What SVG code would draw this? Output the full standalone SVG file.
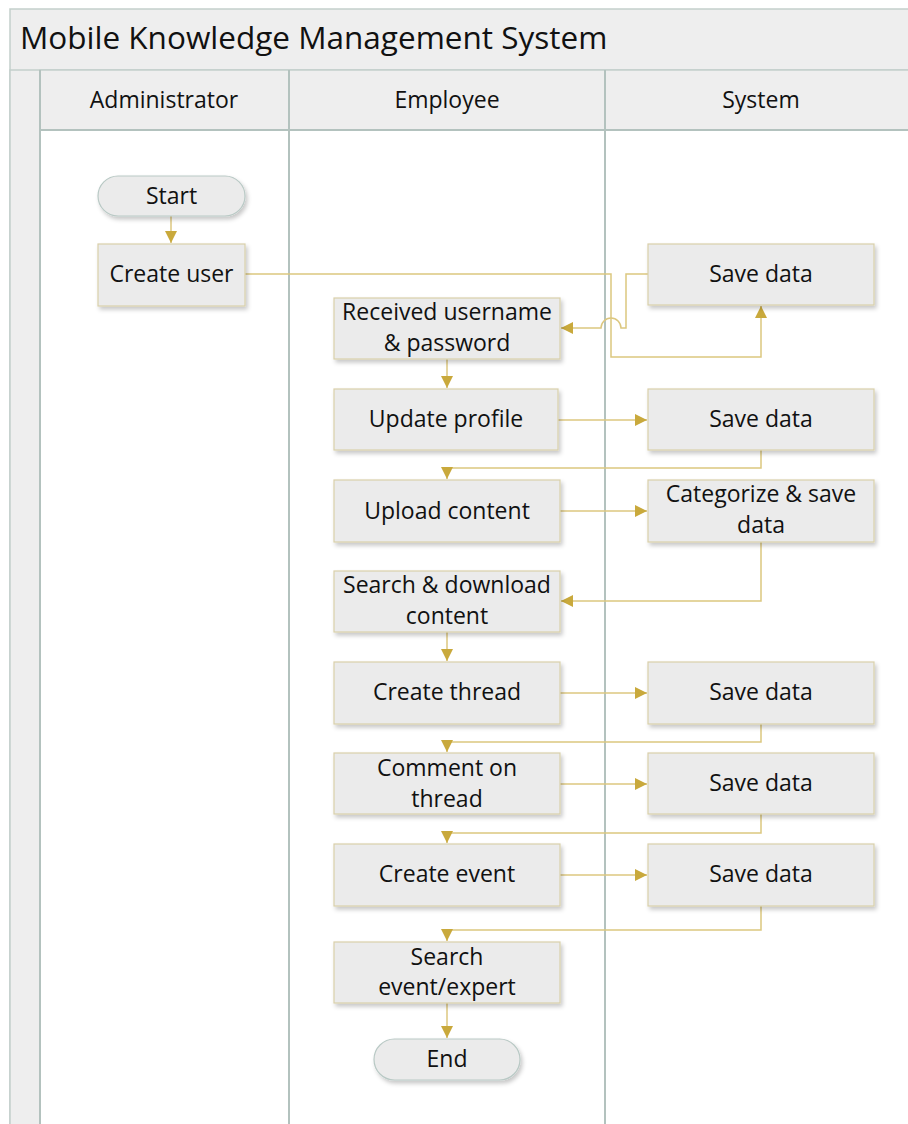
<svg xmlns="http://www.w3.org/2000/svg" width="908" height="1124" viewBox="0 0 908 1124">
<defs>
<filter id="sh" x="-10%" y="-10%" width="125%" height="135%">
<feDropShadow dx="2" dy="3" stdDeviation="2" flood-color="#000" flood-opacity="0.22"/>
</filter>
<marker id="ar" viewBox="0 0 10 10" refX="10" refY="5" markerWidth="12" markerHeight="12" markerUnits="userSpaceOnUse" orient="auto">
<path d="M0,0 L10,5 L0,10 Z" fill="#c9a93c"/>
</marker>
</defs>
<style>
.frame{fill:#eeeeee;stroke:#c3cfcb;stroke-width:1.5}
.lane{fill:none;stroke:#b3c2be;stroke-width:2}
.box{fill:#ebebeb;stroke:#d9d0aa;stroke-width:1.2;filter:url(#sh)}
.pill{fill:#ebebeb;stroke:#b9c9c5;stroke-width:1.2;filter:url(#sh)}
.t{font-family:"Open Sans","Noto Sans",sans-serif;font-size:23px;fill:#111;text-anchor:middle}
.title{font-family:"Open Sans","Noto Sans",sans-serif;font-size:31.5px;fill:#111}
.c{fill:none;stroke:#dcc77f;stroke-width:1.5}
.ca{fill:none;stroke:#dcc77f;stroke-width:1.5;marker-end:url(#ar)}
</style>
<rect width="908" height="1124" fill="#ffffff"/>
<g id="pool">
<rect class="frame" x="10" y="9" width="910" height="1130"/>
<rect class="frame" x="10" y="70" width="910" height="1070"/>
<rect class="frame" x="40" y="70" width="880" height="60"/>
<rect x="41" y="131" width="878" height="1010" fill="#ffffff"/>
<line class="lane" x1="40" y1="70" x2="40" y2="1124"/>
<line class="lane" x1="289" y1="70" x2="289" y2="1124"/>
<line class="lane" x1="605" y1="70" x2="605" y2="1124"/>
<line x1="40" y1="130" x2="908" y2="130" stroke="#b3c2be" stroke-width="2"/>
<text class="title" x="20" y="49">Mobile Knowledge Management System</text>
<text class="t" x="164" y="108">Administrator</text>
<text class="t" x="447" y="108">Employee</text>
<text class="t" x="761" y="108">System</text>
</g>
<g id="connectors">
<path class="ca" d="M171,216 L171,243"/>
<path class="ca" d="M245,274 L611,274 L611,357 L761,357 L761,306"/>
<path class="ca" d="M648,274 L626,274 L626,328 L621,328 A10,10 0 0 0 601,328 L561,328"/>
<path class="ca" d="M447,359 L447,388"/>
<path class="ca" d="M558,420 L647,420"/>
<path class="ca" d="M761,450 L761,468 L447,468 L447,479"/>
<path class="ca" d="M560,511 L647,511"/>
<path class="ca" d="M761,542 L761,601 L561,601"/>
<path class="ca" d="M447,632 L447,661"/>
<path class="ca" d="M560,693 L647,693"/>
<path class="ca" d="M761,724 L761,742 L447,742 L447,752"/>
<path class="ca" d="M560,784 L647,784"/>
<path class="ca" d="M761,814 L761,833 L447,833 L447,843"/>
<path class="ca" d="M560,875 L647,875"/>
<path class="ca" d="M761,906 L761,930 L447,930 L447,941"/>
<path class="ca" d="M447,1003 L447,1038"/>
</g>
<g id="start">
<rect class="pill" x="98" y="176" width="147" height="40" rx="20"/>
<text class="t" x="171.5" y="204">Start</text>
</g>
<g id="create_user">
<rect class="box" x="98" y="244" width="147" height="62"/>
<text class="t" x="171.5" y="282">Create user</text>
</g>
<g id="received">
<rect class="box" x="334" y="298" width="226" height="61"/>
<text class="t" x="447" y="320">Received username</text>
<text class="t" x="447" y="351">&amp; password</text>
</g>
<g id="update_profile">
<rect class="box" x="334" y="389" width="224" height="61"/>
<text class="t" x="446" y="427">Update profile</text>
</g>
<g id="upload_content">
<rect class="box" x="334" y="480" width="226" height="62"/>
<text class="t" x="447" y="519">Upload content</text>
</g>
<g id="search_download">
<rect class="box" x="334" y="571" width="226" height="61"/>
<text class="t" x="447" y="593">Search &amp; download</text>
<text class="t" x="447" y="624">content</text>
</g>
<g id="create_thread">
<rect class="box" x="334" y="662" width="226" height="62"/>
<text class="t" x="447" y="700">Create thread</text>
</g>
<g id="comment_thread">
<rect class="box" x="334" y="753" width="226" height="61"/>
<text class="t" x="447" y="776">Comment on</text>
<text class="t" x="447" y="807">thread</text>
</g>
<g id="create_event">
<rect class="box" x="334" y="844" width="226" height="62"/>
<text class="t" x="447" y="882">Create event</text>
</g>
<g id="search_event">
<rect class="box" x="334" y="942" width="226" height="61"/>
<text class="t" x="447" y="965">Search</text>
<text class="t" x="447" y="995">event/expert</text>
</g>
<g id="end">
<rect class="pill" x="374" y="1039" width="146" height="41" rx="20.5"/>
<text class="t" x="447" y="1067">End</text>
</g>
<g id="save1">
<rect class="box" x="648" y="244" width="226" height="61"/>
<text class="t" x="761" y="282">Save data</text>
</g>
<g id="save2">
<rect class="box" x="648" y="389" width="226" height="61"/>
<text class="t" x="761" y="427">Save data</text>
</g>
<g id="categorize">
<rect class="box" x="648" y="480" width="226" height="62"/>
<text class="t" x="761" y="502">Categorize &amp; save</text>
<text class="t" x="761" y="533">data</text>
</g>
<g id="save3">
<rect class="box" x="648" y="662" width="226" height="62"/>
<text class="t" x="761" y="700">Save data</text>
</g>
<g id="save4">
<rect class="box" x="648" y="753" width="226" height="61"/>
<text class="t" x="761" y="791">Save data</text>
</g>
<g id="save5">
<rect class="box" x="648" y="844" width="226" height="62"/>
<text class="t" x="761" y="882">Save data</text>
</g>
</svg>
